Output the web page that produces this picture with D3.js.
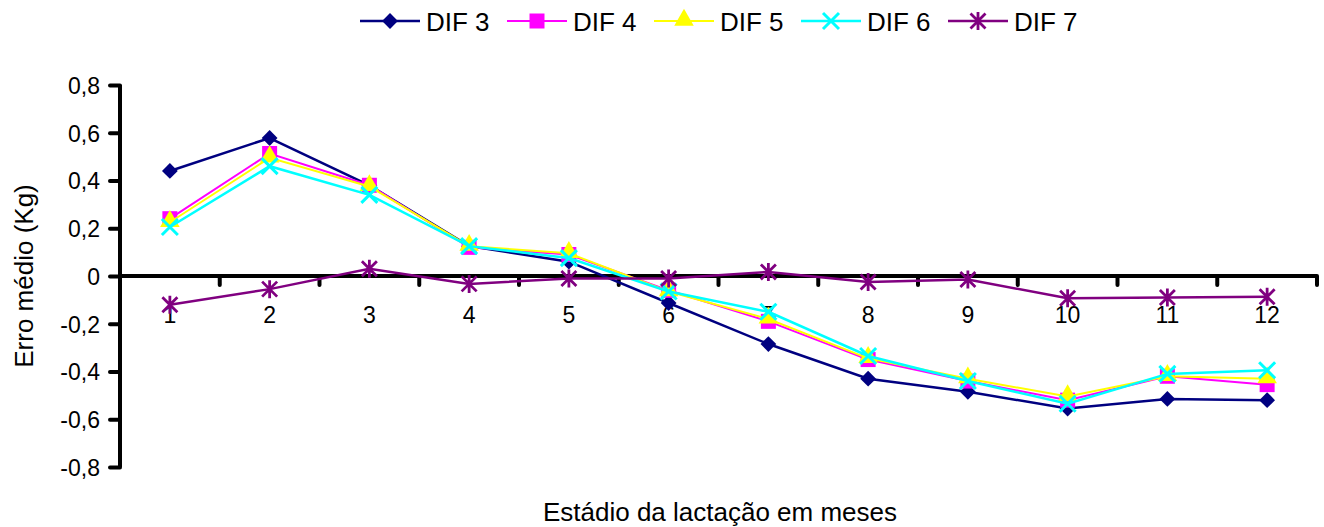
<!DOCTYPE html>
<html>
<head>
<meta charset="utf-8">
<script src="https://cdn.jsdelivr.net/npm/d3@7"></script>
<style>
  body { margin: 0; background: #fff; }
  text { font-family: "Liberation Sans", Arial, sans-serif; fill: #000; }
</style>
</head>
<body>
<div class="c_chart"></div>
<script>
/* DATA
------------------------------------------------------ */
const meses = ["1","2","3","4","5","6","7","8","9","10","11","12"];
const dif3 = [0.44, 0.578, 0.38, 0.125, 0.06, -0.113, -0.285, -0.43, -0.485, -0.555, -0.515, -0.52];
const dif4 = [0.24, 0.513, 0.38, 0.12, 0.09, -0.06, -0.19, -0.35, -0.44, -0.52, -0.42, -0.455];
const dif5 = [0.225, 0.495, 0.375, 0.125, 0.095, -0.065, -0.18, -0.345, -0.43, -0.505, -0.42, -0.43];
const dif6 = [0.205, 0.46, 0.34, 0.125, 0.075, -0.065, -0.15, -0.335, -0.44, -0.535, -0.41, -0.395];
const dif7 = [-0.12, -0.055, 0.03, -0.033, -0.01, -0.01, 0.017, -0.025, -0.015, -0.093, -0.09, -0.087];
const yTicks = [-0.8, -0.6, -0.4, -0.2, 0, 0.2, 0.4, 0.6, 0.8];

const series = [
  {name: "DIF 3", values: dif3, color: "#000080", mark: "diamond", lw: 2.5},
  {name: "DIF 4", values: dif4, color: "#FF00FF", mark: "square", lw: 2},
  {name: "DIF 5", values: dif5, color: "#FFFF00", mark: "triangle", lw: 2},
  {name: "DIF 6", values: dif6, color: "#00FFFF", mark: "cross", lw: 2.5},
  {name: "DIF 7", values: dif7, color: "#800080", mark: "star", lw: 2.5}
];

/* SVG
------------------------------------------------------ */
const width = 1324, height = 527;
const svg = d3.select(".c_chart").append("svg")
  .attr("width", width)
  .attr("height", height);

const x = d3.scaleBand().domain(meses).range([120, 1317]);
const y = d3.scaleLinear().domain([-0.8, 0.8]).range([467, 85]);
const cx = d => x(d) + x.bandwidth() / 2;

const fmt = v => v === 0 ? "0" : d3.format(".1f")(v).replace(".", ",").replace("−", "-");

/* AXES
------------------------------------------------------ */
// y axis
const gy = svg.append("g").attr("transform", "translate(120,0)")
  .call(d3.axisLeft(y).tickValues(yTicks).tickSize(10).tickPadding(10).tickFormat(fmt));
gy.select(".domain").attr("d", `M0,${y(0.8)}V${y(-0.8)}`).attr("stroke-width", 4).attr("stroke", "#000");
gy.selectAll(".tick line").attr("stroke-width", 4).attr("stroke-linecap", "round");
gy.selectAll(".tick text").style("font-size", "23px").attr("dy", "0.36em");

// x axis at zero, ticks between categories
const gx = svg.append("g").attr("transform", `translate(0,${y(0)})`);
gx.append("line")
  .attr("x1", 120).attr("x2", 1317)
  .attr("stroke", "#000").attr("stroke-width", 4);
gx.selectAll(".sep")
  .data(meses)
  .enter().append("line")
  .attr("class", "sep")
  .attr("x1", d => x(d) + x.bandwidth()).attr("x2", d => x(d) + x.bandwidth())
  .attr("y1", 0).attr("y2", 9)
  .attr("stroke", "#000").attr("stroke-width", 4).attr("stroke-linecap", "round");
gx.selectAll(".lab")
  .data(meses)
  .enter().append("text")
  .attr("class", "lab")
  .attr("x", d => cx(d)).attr("y", 47)
  .attr("text-anchor", "middle")
  .style("font-size", "23px")
  .text(d => d);

/* MARKERS
------------------------------------------------------ */
function drawMark(g, s) {
  if (s.mark === "diamond") {
    g.append("path").attr("d", d3.symbol(d3.symbolSquare, 125)())
      .attr("transform", "rotate(45)").attr("fill", s.color);
  } else if (s.mark === "square") {
    g.append("path").attr("d", d3.symbol(d3.symbolSquare, 225)()).attr("fill", s.color);
  } else if (s.mark === "triangle") {
    g.append("path").attr("d", d3.symbol(d3.symbolTriangle, 165)())
      .attr("transform", "translate(0,-1)").attr("fill", s.color);
  } else if (s.mark === "cross") {
    g.append("path").attr("d", "M-8,-8L8,8M-8,8L8,-8")
      .attr("stroke", s.color).attr("stroke-width", 3).attr("fill", "none");
  } else {
    g.append("path").attr("d", "M-7.5,-7.5L7.5,7.5M-7.5,7.5L7.5,-7.5M0,-9V9")
      .attr("stroke", s.color).attr("stroke-width", 2.8).attr("fill", "none");
  }
}

/* LINES
------------------------------------------------------ */
const line = d3.line()
  .x((d, i) => cx(meses[i]))
  .y(d => y(d));

series.forEach(s => {
  const g = svg.append("g").attr("class", "serie");
  g.append("path")
    .attr("d", line(s.values))
    .attr("fill", "none")
    .attr("stroke", s.color)
    .attr("stroke-width", s.lw);
  g.selectAll(".pt")
    .data(s.values)
    .enter().append("g")
    .attr("class", "pt")
    .attr("transform", (d, i) => `translate(${cx(meses[i])},${y(d)})`)
    .each(function() { drawMark(d3.select(this), s); });
});

/* LEGEND
------------------------------------------------------ */
const legend = svg.append("g").attr("transform", "translate(360,21)");
const item = legend.selectAll(".item")
  .data(series)
  .enter().append("g")
  .attr("class", "item")
  .attr("transform", (d, i) => `translate(${i * 147},0)`);
item.append("line")
  .attr("x1", 0).attr("x2", 60)
  .attr("stroke", d => d.color).attr("stroke-width", d => d.lw);
item.append("g")
  .attr("transform", "translate(30,0)")
  .each(function(d) { drawMark(d3.select(this), d); });
item.append("text")
  .attr("x", 66).attr("y", 10)
  .style("font-size", "26px")
  .text(d => d.name);

/* TITLES
------------------------------------------------------ */
svg.append("text")
  .attr("x", 720).attr("y", 521)
  .attr("text-anchor", "middle")
  .style("font-size", "26px")
  .text("Estádio da lactação em meses");

svg.append("text")
  .attr("transform", "translate(33,276) rotate(-90)")
  .attr("text-anchor", "middle")
  .style("font-size", "26px")
  .text("Erro médio (Kg)");
</script>
</body>
</html>
